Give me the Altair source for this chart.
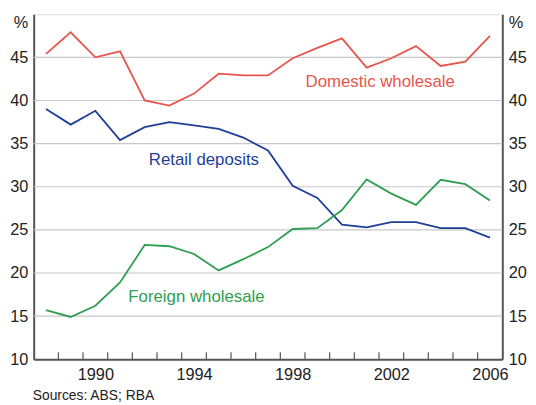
import altair as alt
import pandas as pd

years = list(range(1988, 2007))
domestic = [45.4, 47.9, 45.0, 45.7, 40.0, 39.4, 40.8, 43.1, 42.9, 42.9, 44.9, 46.1, 47.2, 43.8, 44.9, 46.3, 44.0, 44.5, 47.5]
retail = [39.0, 37.2, 38.8, 35.4, 36.9, 37.5, 37.1, 36.7, 35.7, 34.2, 30.1, 28.7, 25.6, 25.3, 25.9, 25.9, 25.2, 25.2, 24.1]
foreign = [15.7, 14.9, 16.2, 18.9, 23.25, 23.1, 22.2, 20.3, 21.6, 23.0, 25.1, 25.2, 27.3, 30.85, 29.2, 27.9, 30.8, 30.3, 28.4]

series_names = ["Domestic wholesale", "Retail deposits", "Foreign wholesale"]
series_colors = ["#e8554d", "#1f3f97", "#2e9e50"]

label_x = [2001.55, 1994.4, 1994.1]
label_y = [42.15, 33.1, 17.2]

x_labels = [1990, 1994, 1998, 2002, 2006]
y_ticks = [10, 15, 20, 25, 30, 35, 40, 45, 50]
grid_vals = [15, 20, 25, 30, 35, 40, 45]
boundaries = [y + 0.5 for y in range(1988, 2006)]

W, H = 474, 349
FONT = "Liberation Sans"

rows = []
for name, vals in zip(series_names, [domestic, retail, foreign]):
    for yr, v in zip(years, vals):
        rows.append({"year": yr, "value": v, "series": name})
df = pd.DataFrame(rows)

labels_df = pd.DataFrame({"series": series_names, "x": label_x, "y": label_y})
grid_df = pd.DataFrame({"v": grid_vals})
tick_df = pd.DataFrame({"b": boundaries})

xscale = alt.Scale(domain=[1987.5, 2006.5], nice=False, zero=False)
yscale = alt.Scale(domain=[10, 50], nice=False, zero=False)
color_scale = alt.Scale(domain=series_names, range=series_colors)

label_expr = "datum.value == 50 ? '%' : datum.label"
baseline_cond = {"condition": {"test": "datum.value == 50", "value": "top"}, "value": "middle"}

axis_common = dict(
    values=y_ticks, labelExpr=label_expr, ticks=False, grid=False, title=None,
    labelFont=FONT, labelFontSize=16.5, labelColor="#222", labelPadding=6,
    domainColor="#555", domainWidth=2, labelBaseline=baseline_cond,
)

grid = alt.Chart(grid_df).mark_rule(color="#c8c8c8", strokeWidth=1.2).encode(
    y=alt.Y("v:Q", scale=yscale, axis=alt.Axis(orient="right", **axis_common)),
    x=alt.value(0), x2=alt.value(W),
)

lines = alt.Chart(df).mark_line(strokeWidth=1.8).encode(
    x=alt.X("year:Q", scale=xscale, axis=alt.Axis(
        values=x_labels, format="d", ticks=False, grid=False, title=None,
        labelFont=FONT, labelFontSize=16.5, labelColor="#222", labelPadding=7,
        domainColor="#555", domainWidth=2, labelFlush=False)),
    y=alt.Y("value:Q", scale=yscale, axis=alt.Axis(orient="left", **axis_common)),
    color=alt.Color("series:N", scale=color_scale, legend=None),
    detail="series:N",
)

ticks = alt.Chart(tick_df).mark_rule(color="#555", strokeWidth=1.2).encode(
    x=alt.X("b:Q", scale=xscale), y=alt.value(H), y2=alt.value(H - 7),
)

texts = alt.Chart(labels_df).mark_text(font=FONT, fontSize=17, align="center", baseline="middle").encode(
    x=alt.X("x:Q", scale=xscale),
    y=alt.Y("y:Q", scale=yscale, axis=None),
    text="series:N",
    color=alt.Color("series:N", scale=color_scale, legend=None),
)

title = alt.Chart(pd.DataFrame({"t": ["Per cent of total"]})).mark_text(
    font=FONT, fontSize=16.5, color="#222", align="center", baseline="alphabetic"
).encode(x=alt.value(W / 2), y=alt.value(-8), text="t:N")

source = alt.Chart(pd.DataFrame({"t": ["Sources: ABS; RBA"]})).mark_text(
    font=FONT, fontSize=14, color="#222", align="left", baseline="alphabetic"
).encode(x=alt.value(-1), y=alt.value(390), text="t:N")

chart = alt.layer(grid, lines, ticks, texts, title, source).resolve_scale(
    y="independent"
).properties(
    width=W, height=H,
    autosize=alt.AutoSizeParams(type="none"),
    padding={"left": 26, "top": 4, "right": 26, "bottom": 44},
).configure_view(stroke="#666", strokeWidth=1).configure(background="white")

chart.save("out.html", embed_options={"renderer": "svg", "actions": False})
